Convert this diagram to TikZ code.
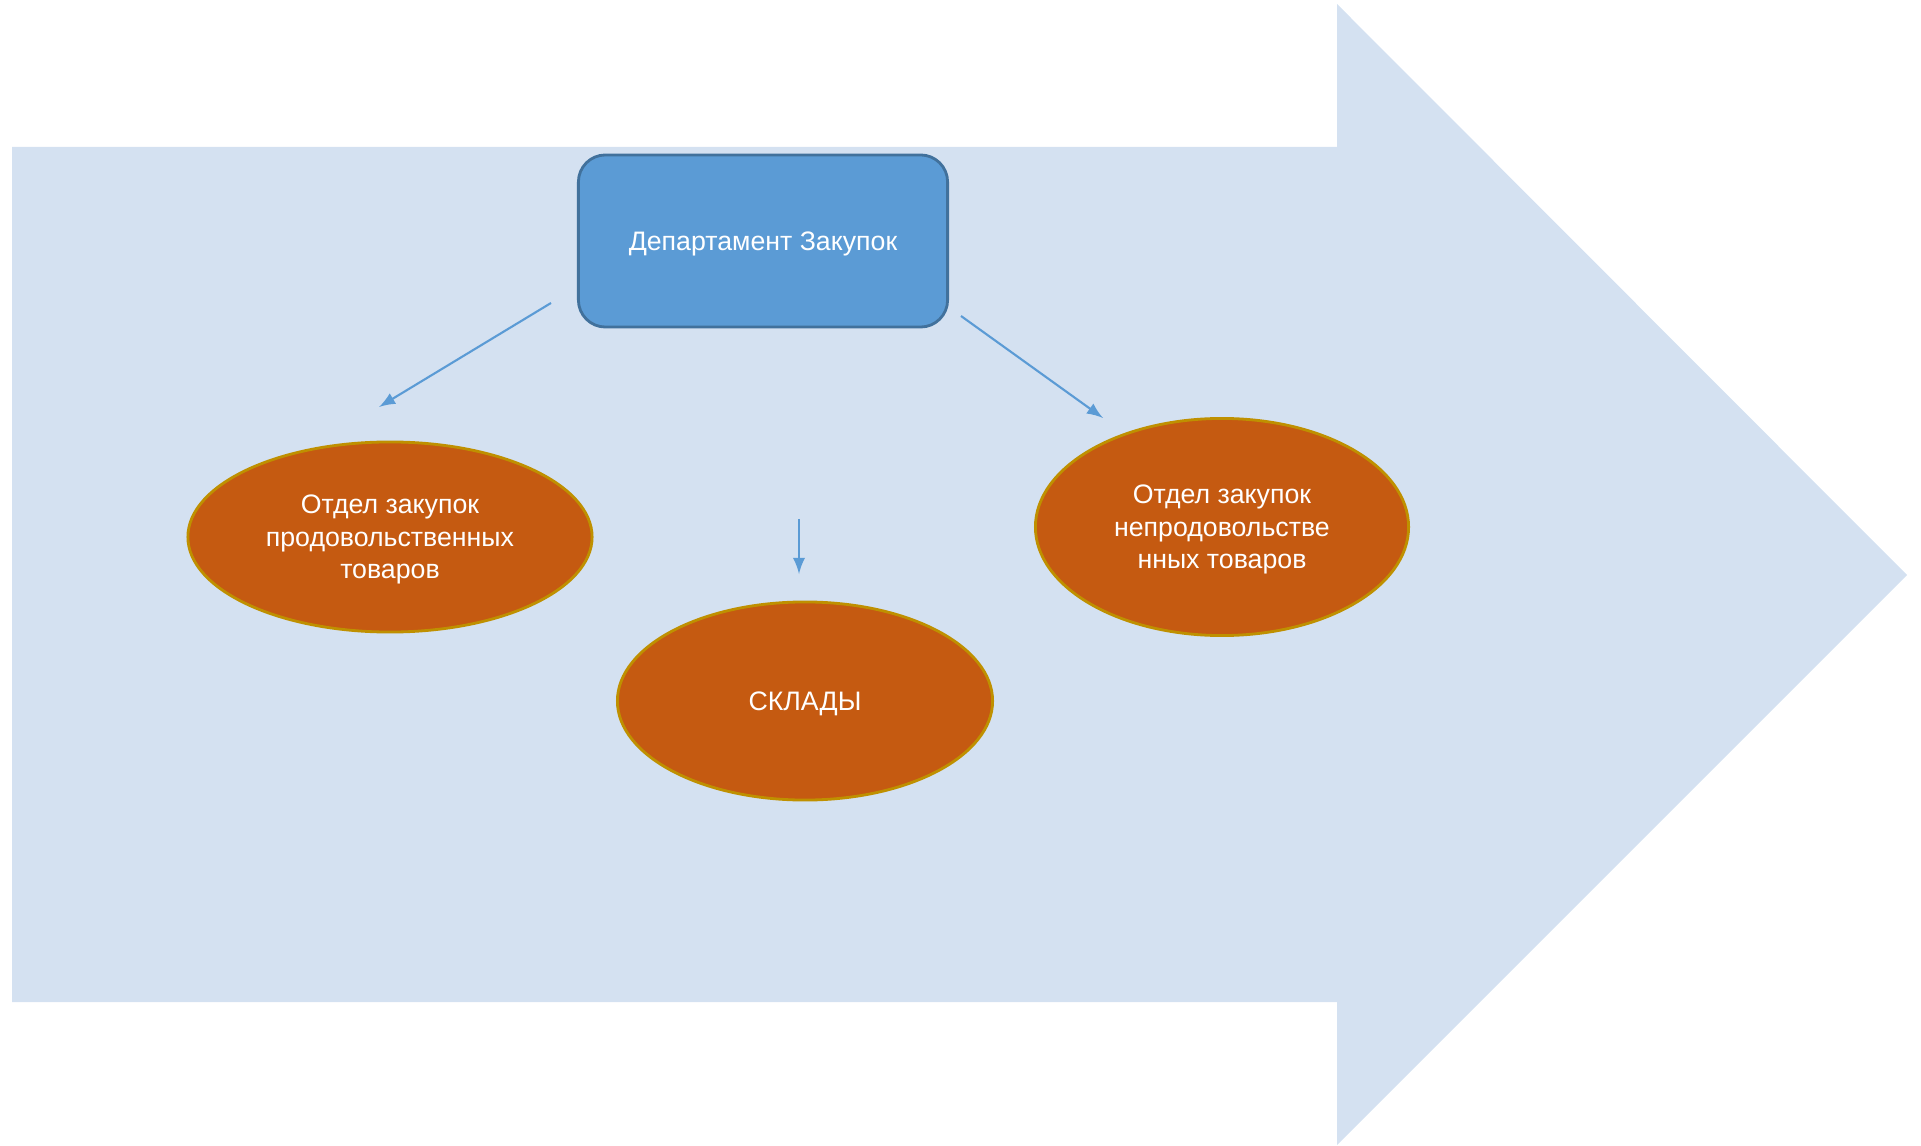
\documentclass[tikz,border=0pt]{standalone}
\usepackage{fontspec}
\setmainfont{Liberation Sans}
\usepackage{xcolor}
\usepackage{tikz}
\usetikzlibrary{arrows}
\usetikzlibrary{shapes.geometric}
\usetikzlibrary{positioning}

\definecolor{arrowbg}{HTML}{D4E1F1}
\definecolor{deptfill}{HTML}{5B9BD5}
\definecolor{deptline}{HTML}{41719C}
\definecolor{otdfill}{HTML}{C55A11}
\definecolor{otdline}{HTML}{BF9000}

\tikzset{
  dept/.style={rectangle, rounded corners=0.27cm, fill=deptfill, draw=deptline,
    line width=0.8pt, text=white, minimum width=3.69cm, minimum height=1.72cm,
    text depth=0pt, font=\fontsize{7.6}{9.2}\selectfont},
  otdel/.style={ellipse, fill=otdfill, draw=otdline, line width=0.8pt, text=white,
    inner sep=0pt, align=center, text depth=0pt, font=\fontsize{7.6}{9.2}\selectfont},
  link/.style={-latex, draw=deptfill, line width=0.6pt}
}

\begin{document}
\begin{tikzpicture}[x=0.01cm, y=-0.01cm]
\useasboundingbox (0,0) rectangle (1921,1146);
% big background arrow
\fill [arrowbg] (12,147) -- (1337,147) -- (1337,4) -- (1907,575)
  -- (1337,1145) -- (1337,1002) -- (12,1002) -- cycle;

\node [dept] (D) at (763,241) {Департамент Закупок};
\node [otdel, minimum width=4.04cm, minimum height=1.90cm] (F) at (390,537)
  {Отдел закупок\\продовольственных\\товаров};
\node [otdel, minimum width=3.73cm, minimum height=2.17cm] (N) at (1222,527)
  {Отдел закупок\\непродовольстве\\нных товаров};
\node [otdel, minimum width=3.75cm, minimum height=1.98cm] (S) at (805,701) {СКЛАДЫ};

\coordinate (f1) at (551,303);
\coordinate (f2) at (379,407);
\coordinate (n1) at (961,316);
\coordinate (n2) at (1103,418);
\coordinate (s1) at (799,519);
\coordinate (s2) at (799,574);

\draw [link] (f1) to (f2);
\draw [link] (n1) to (n2);
\draw [link] (s1) to (s2);
\end{tikzpicture}
\end{document}
